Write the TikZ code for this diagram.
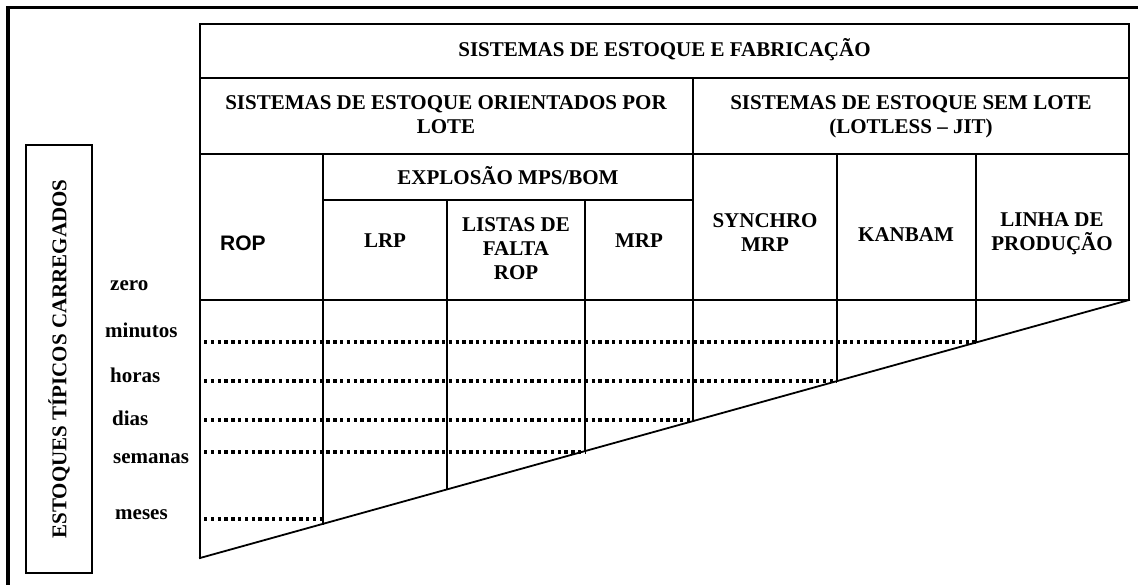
\documentclass[tikz,border=0pt]{standalone}
\usepackage{fontspec}
\setmainfont{Liberation Serif}
\newfontfamily\arialfont{Liberation Sans}
\begin{document}
\begin{tikzpicture}[x=1pt,y=-1pt,
  grid/.style={line width=1.8pt, line cap=rect},
  frame/.style={line width=3.5pt},
  dotline/.style={line width=3.2pt, dash pattern=on 3.4pt off 3.4pt},
  lbl/.style={font=\fontsize{21}{24}\selectfont\bfseries, align=center, inner sep=0pt},
  axis/.style={font=\fontsize{21}{24}\selectfont\bfseries, inner sep=0pt, anchor=base west}]
\useasboundingbox (0,0) rectangle (1138,584);
% outer frame (only top and left visible)
\draw[frame] (8,590) -- (8,7.5) -- (1145,7.5);
% left vertical label
\node[draw, line width=1.5pt, minimum width=66pt, minimum height=428pt, inner sep=0pt] (ylabel) at (59,359) {};
\node[lbl, rotate=90] (ylabeltext) at (ylabel.center) {ESTOQUES TÍPICOS CARREGADOS};
% key coordinates
\coordinate (TL) at (200,24);
\coordinate (TR) at (1129,24);
\coordinate (HR) at (1129,300);
\coordinate (D0) at (200,558);
\coordinate (D1) at (1129,300);
% table grid
\draw[grid] (D0) -- (TL) -- (TR) -- (HR);
\draw[grid] (200,78) -- (1129,78);
\draw[grid] (200,154) -- (1129,154);
\draw[grid] (200,300) -- (1129,300);
\draw[grid] (323,200) -- (693,200);
\draw[grid] (693,78) -- (693,421.1);
\draw[grid] (323,154) -- (323,523.8);
\draw[grid] (447,200) -- (447,489.4);
\draw[grid] (585,200) -- (585,451.1);
\draw[grid] (837,154) -- (837,381.1);
\draw[grid] (976,154) -- (976,342.5);
\draw[grid] (D0) -- (D1);
% dotted levels
\draw[dotline] (204,342) -- (976,342);
\draw[dotline] (204,381) -- (837,381);
\draw[dotline] (204,420) -- (693,420);
\draw[dotline] (204,452) -- (585,452);
\draw[dotline] (204,519) -- (323,519);
% header texts
\node[lbl] (title) at (664.5,50) {SISTEMAS DE ESTOQUE E FABRICAÇÃO};
\node[lbl] (lote) at (446,114.4) {SISTEMAS DE ESTOQUE ORIENTADOS POR\\LOTE};
\node[lbl] (jit) at (911,116.4) {SISTEMAS DE ESTOQUE SEM LOTE\\(LOTLESS – JIT)};
\node[lbl] (explo) at (508,176) {EXPLOSÃO MPS/BOM};
\node[lbl, anchor=west, font=\fontsize{21}{24}\selectfont\bfseries\arialfont] (rop) at (220,243) {ROP};
\node[lbl] (lrp) at (385,241) {LRP};
\node[lbl] (listas) at (516,249) {LISTAS DE\\FALTA\\ROP};
\node[lbl] (mrp) at (639,241) {MRP};
\node[lbl] (synchro) at (765,233) {SYNCHRO\\MRP};
\node[lbl] (kanbam) at (906,235) {KANBAM};
\node[lbl] (linha) at (1052,233.4) {LINHA DE\\PRODUÇÃO};
% axis labels
\node[axis] (zero) at (110,290) {zero};
\node[axis] (minutos) at (105,337) {minutos};
\node[axis] (horas) at (110,382) {horas};
\node[axis] (dias) at (112,425) {dias};
\node[axis] (semanas) at (113,463) {semanas};
\node[axis] (meses) at (115,519) {meses};
\end{tikzpicture}
\end{document}
